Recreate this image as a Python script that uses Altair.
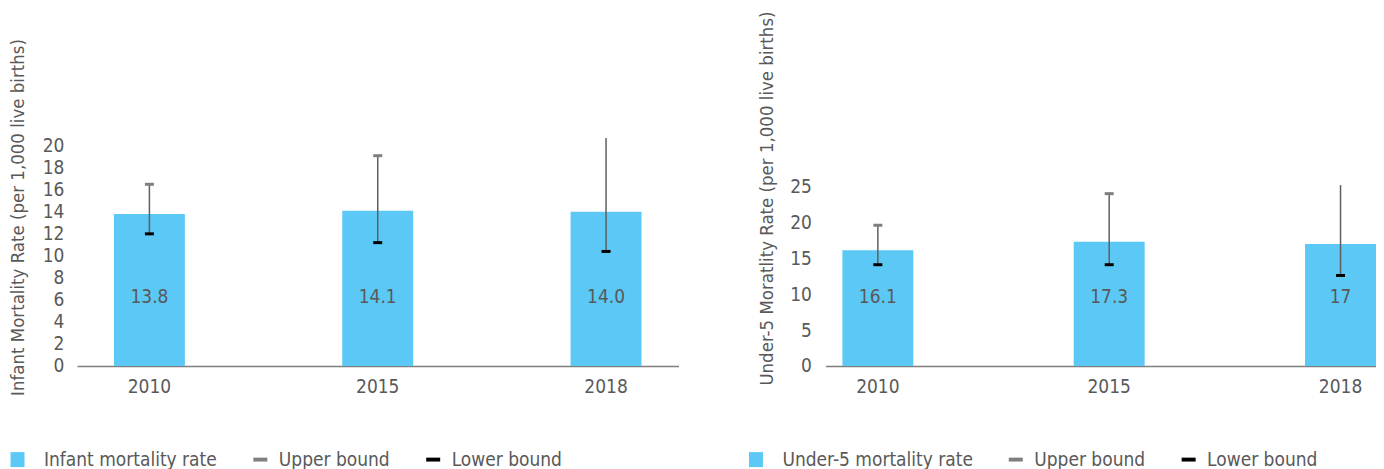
import altair as alt
import pandas as pd

# ---------------- data ----------------
years = ["2010", "2015", "2018"]

imr_values = [13.8, 14.1, 14.0]
imr_labels = ["13.8", "14.1", "14.0"]
imr_upper = [16.5, 19.1, 21.5]
imr_lower = [12.0, 11.2, 10.4]

u5_values = [16.1, 17.3, 17.0]
u5_labels = ["16.1", "17.3", "17"]
u5_upper = [19.6, 24.0, 26.5]
u5_lower = [14.1, 14.1, 12.6]

imr_series = "Infant mortality rate"
u5_series = "Under-5 mortality rate"
upper_name = "Upper bound"
lower_name = "Lower bound"

imr_title = "Infant Mortality Rate (per 1,000 live births)"
u5_title = "Under-5 Moratlity Rate (per 1,000 live births)"

imr_ticks = [0, 2, 4, 6, 8, 10, 12, 14, 16, 18, 20]
u5_ticks = [0, 5, 10, 15, 20, 25]

# ---------------- style ----------------
FONT = "Liberation Sans Narrow, DejaVu Sans Condensed, Arial Narrow, sans-serif"
BLUE = "#5BC8F5"
GREY = "#7F7F7F"
BLACK = "#000000"
TEXT = "#595959"
H = 228

DASH = "M-1,-0.28H1V0.28H-1Z"
SQUARE = "M-2.14,-1.07H-0.14V1.07H-2.14Z"


def panel(values, labels, upper, lower, series, ytitle, ticks, ymax,
          width, p_inner, p_outer, align, yrange, title_y, label_pad, legend_x):
    df = pd.DataFrame({"year": years, "value": values, "label": labels,
                       "upper": upper, "lower": lower})
    color_scale = alt.Scale(domain=[series, upper_name, lower_name],
                            range=[BLUE, GREY, BLACK])
    legend = alt.Legend(
        orient="none", legendX=legend_x, legendY=312, direction="horizontal",
        title=None, padding=0, labelFont=FONT, labelFontSize=19, labelColor=TEXT,
        labelLimit=0,
        symbolSize=196, symbolStrokeWidth=0, symbolOpacity=1, columnPadding=33,
        labelOffset=9,
        symbolType={"expr": f"datum.value == '{series}' ? '{SQUARE}' : '{DASH}'"},
    )
    xs = alt.Scale(paddingInner=p_inner, paddingOuter=p_outer, align=align)
    xaxis = alt.Axis(title=None, labelAngle=0, ticks=False, domainColor=GREY,
                     domainWidth=1.5, labelPadding=12, labelFont=FONT,
                     labelFontSize=19, labelColor=TEXT)
    x = alt.X("year:N", sort=years, scale=xs, axis=xaxis)
    scale_kw = dict(domain=[0, ymax], clamp=True, nice=False, zero=True)
    if yrange is not None:
        scale_kw["range"] = yrange
    ys = alt.Scale(**scale_kw)
    yaxis = alt.Axis(values=ticks, title=ytitle, domain=False, ticks=False,
                     grid=False, labelPadding=label_pad, labelFont=FONT,
                     labelFontSize=19, labelColor=TEXT, titleFont=FONT,
                     titleFontSize=18.5, titleColor=TEXT, titleFontWeight="normal",
                     titleX=-59, titleY=title_y, titleBaseline="middle",
                     titleAlign="center", titleAngle=270)
    color = alt.Color("series:N", scale=color_scale, legend=legend)
    base = alt.Chart(df)
    bars = base.transform_calculate(series=f"'{series}'").mark_bar().encode(
        x=x, y=alt.Y("value:Q", scale=ys, axis=yaxis), color=color)
    rule = base.mark_rule(color="#5f5f5f", strokeWidth=1.5).encode(
        x=x, y=alt.Y("lower:Q", scale=ys, axis=yaxis), y2="upper:Q")
    up = base.transform_filter(f"datum.upper <= {ymax}").transform_calculate(
        series=f"'{upper_name}'").mark_tick(size=9, thickness=3, opacity=1).encode(
        x=x, y=alt.Y("upper:Q", scale=ys, axis=yaxis), color=color)
    lo = base.transform_calculate(series=f"'{lower_name}'").mark_tick(
        size=9, thickness=3, opacity=1).encode(
        x=x, y=alt.Y("lower:Q", scale=ys, axis=yaxis), color=color)
    txt = base.mark_text(font=FONT, fontSize=19, color=TEXT).encode(
        x=x, y=alt.value(159), text="label:N")
    return alt.layer(bars, rule, up, lo, txt).properties(width=width, height=H)


left = panel(imr_values, imr_labels, imr_upper, imr_lower, imr_series, imr_title,
             imr_ticks, 20.7, 602, 0.6893, 0.162, 0.5, None, 79, 13, -61)
right = panel(u5_values, u5_labels, u5_upper, u5_lower, u5_series, u5_title,
              u5_ticks, 25.2, 551, 0.6933, 0.0367, 1.0, [H, 47], 60, 14, -71)

chart = alt.hconcat(left, right, spacing=147, bounds="flush").resolve_scale(
    color="independent", x="independent", y="independent"
).resolve_legend(color="independent").properties(
    padding={"left": 0, "top": 2, "right": 0, "bottom": 0}
).configure_view(stroke=None)

chart.save("out.html", embed_options={"renderer": "svg", "actions": False})
